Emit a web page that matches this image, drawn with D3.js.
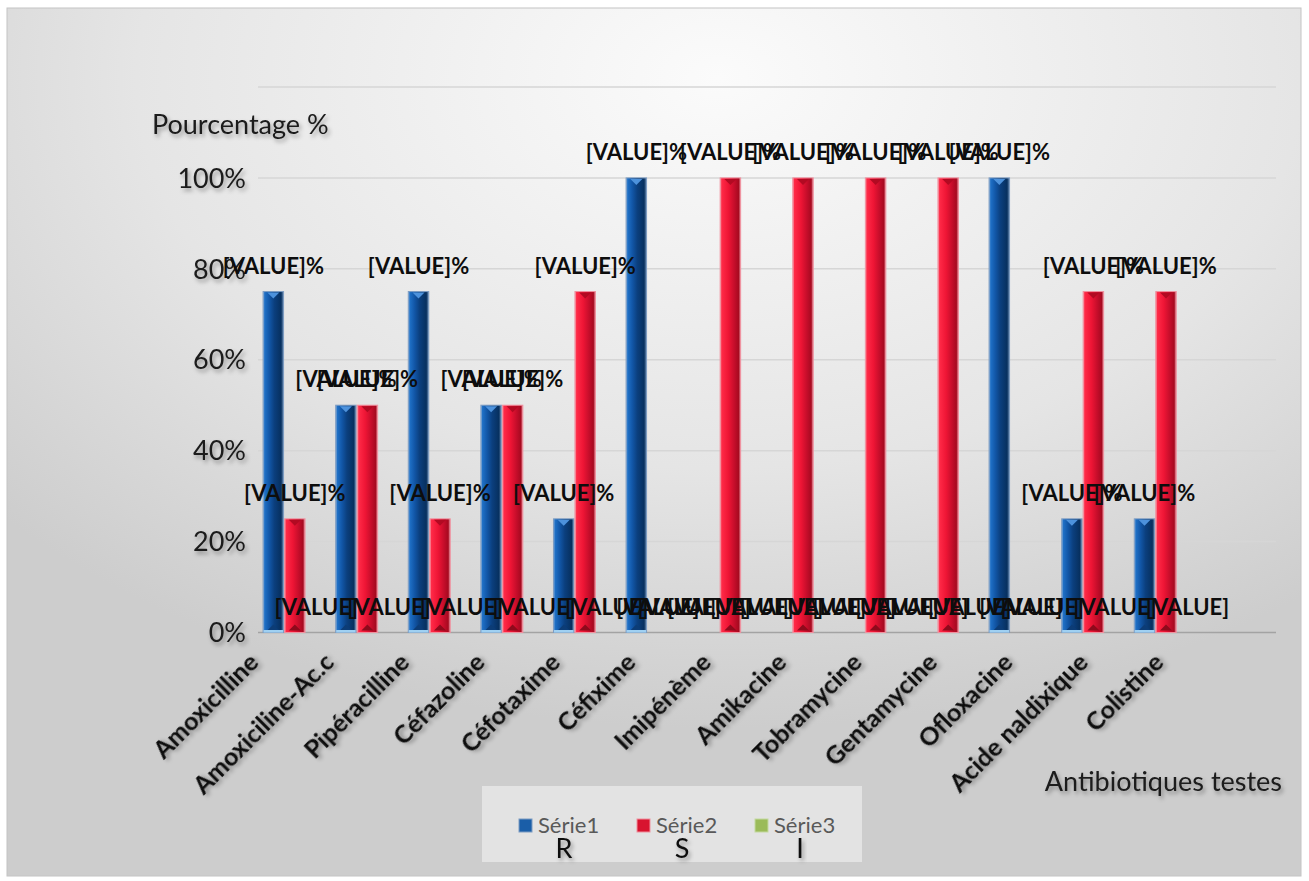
<!DOCTYPE html>
<meta charset="utf-8">
<script src="https://d3js.org/d3.v7.min.js"></script>
<style>
  body { margin: 0; background: #fff; }
  text { font-family: Lato, "Open Sans", sans-serif; }
</style>
<svg id="chart" width="1309" height="881"></svg>
<script>

// Data
var categories = ["Amoxicilline", "Amoxiciline-Ac.c", "Pipéracilline", "Céfazoline", "Céfotaxime",
  "Céfixime", "Imipénème", "Amikacine", "Tobramycine", "Gentamycine", "Ofloxacine",
  "Acide naldixique", "Colistine"];
var serie1 = [75, 50, 75, 50, 25, 100, 0, 0, 0, 0, 100, 25, 25];   // R
var serie2 = [25, 50, 25, 50, 75, 0, 100, 100, 100, 100, 0, 75, 75]; // S
var serie3 = [0, 0, 0, 0, 0, 0, 0, 0, 0, 0, 0, 0, 0];               // I
var seriesNames = ["Série1", "Série2", "Série3"];
var seriesLetters = ["R", "S", "I"];
var tickValues = [0, 20, 40, 60, 80, 100];
var tickLabels = ["0%", "20%", "40%", "60%", "80%", "100%"];
var gridValues = [0, 20, 40, 60, 80, 100, 120];

var svg = d3.select("svg");
var defs = svg.append("defs");

// soft text shadow
var sh = defs.append("filter").attr("id", "shadow")
  .attr("x", "-20%").attr("y", "-40%").attr("width", "150%").attr("height", "200%");
sh.append("feDropShadow").attr("dx", 2).attr("dy", 3).attr("stdDeviation", 2)
  .attr("flood-color", "#000").attr("flood-opacity", 0.35);

// background
var bg = defs.append("radialGradient").attr("id", "bg")
  .attr("cx", 0.55).attr("cy", 0.08).attr("r", 0.75);
[[0, "#fbfbfb"], [0.6, "#e5e5e5"], [1, "#cdcdcd"]].forEach(function(s) {
  bg.append("stop").attr("offset", s[0]).attr("stop-color", s[1]);
});

function hGrad(id, stops) {
  var g = defs.append("linearGradient").attr("id", id)
    .attr("x1", 0).attr("x2", 1).attr("y1", 0).attr("y2", 0);
  stops.forEach(function(s) { g.append("stop").attr("offset", s[0]).attr("stop-color", s[1]); });
}
hGrad("gBlue", [[0, "#8fb4dc"], [0.08, "#1f70c6"], [0.3, "#1257a8"], [0.55, "#0b3f7e"], [0.88, "#07305f"], [1, "#6f90b6"]]);
hGrad("gRed", [[0, "#f6a3b0"], [0.08, "#ff2a47"], [0.4, "#ee1535"], [0.7, "#c40d2a"], [0.9, "#a70a20"], [1, "#e9909d"]]);
hGrad("gGreen", [[0, "#c4d9a0"], [0.1, "#9bbb59"], [0.9, "#84a34a"], [1, "#c4d9a0"]]);

var fills = { "Série1": "url(#gBlue)", "Série2": "url(#gRed)", "Série3": "url(#gGreen)" };
var strokes = { "Série1": "#7d9cc2", "Série2": "#f0909e", "Série3": "#c4d9a0" };
var topTri = { "Série1": "#4d92dc", "Série2": "#b20a22", "Série3": "#84a34a" };
var botTri = { "Série1": "#0c3c76", "Série2": "#8e0a1c", "Série3": "#84a34a" };
var legendFill = { "Série1": "#1a5ea8", "Série2": "#d8142f", "Série3": "#9bbb59" };

svg.append("rect").attr("x", 7).attr("y", 8).attr("width", 1294).attr("height", 868)
  .attr("fill", "url(#bg)").attr("stroke", "#c4c4c4");

// scales
var x = d3.scaleBand().domain(categories).range([258.5, 258.5 + 13 * 72.6]);
var xs = d3.scaleBand().domain(seriesNames).range([0, x.bandwidth()]).paddingOuter(0.19);
var y = d3.scaleLinear().domain([0, 120]).range([632.5, 87]);
var labelX = d3.scalePoint().domain(categories).range([260, 1165]);

// gridlines
svg.append("g").selectAll("line").data(gridValues).enter().append("line")
  .attr("x1", 258).attr("x2", 1276)
  .attr("y1", function(d) { return y(d); }).attr("y2", function(d) { return y(d); })
  .attr("stroke", function(d) { return d === 0 ? "#a3a3a3" : "#d6d6d6"; })
  .attr("stroke-width", 1.5);

// y tick labels
svg.append("g").selectAll("text").data(tickValues).enter().append("text")
  .attr("x", 246).attr("y", function(d) { return y(d); }).attr("dy", "0.36em")
  .attr("text-anchor", "end").attr("font-size", 27).attr("fill", "#1a1a1a")
  .attr("filter", "url(#shadow)")
  .text(function(d, i) { return tickLabels[i]; });

svg.append("text").attr("x", 152).attr("y", 134).attr("font-size", 27).attr("fill", "#1a1a1a")
  .attr("filter", "url(#shadow)").text("Pourcentage %");

// bars
var allSeries = [serie1, serie2, serie3];
var bars = [];
categories.forEach(function(c, i) {
  seriesNames.forEach(function(s, j) {
    bars.push({ cat: c, s: s, v: allSeries[j][i] });
  });
});

var bw = xs.bandwidth();
var gBars = svg.append("g");
var shown = bars.filter(function(d) { return d.v > 0; });
var bar = gBars.selectAll("g").data(shown).enter().append("g")
  .attr("transform", function(d) { return "translate(" + (x(d.cat) + xs(d.s)) + ",0)"; });
bar.append("rect")
  .attr("x", 0.5).attr("width", bw - 1)
  .attr("y", function(d) { return y(d.v); })
  .attr("height", function(d) { return y(0) - y(d.v); })
  .attr("fill", function(d) { return fills[d.s]; })
  .attr("stroke", function(d) { return strokes[d.s]; });
bar.append("path")
  .attr("d", function(d) {
    var t = y(d.v) + 1;
    return "M" + (bw * 0.22) + "," + t + "L" + (bw * 0.78) + "," + t + "L" + (bw / 2) + "," + (t + 6) + "Z";
  })
  .attr("fill", function(d) { return topTri[d.s]; });
bar.append("path")
  .attr("d", function(d) {
    var b = y(0) - 2;
    return "M" + (bw * 0.22) + "," + b + "L" + (bw * 0.78) + "," + b + "L" + (bw / 2) + "," + (b - 6) + "Z";
  })
  .attr("fill", function(d) { return botTri[d.s]; });
bar.filter(function(d) { return d.s === "Série1"; }).append("rect")
  .attr("x", 1).attr("width", bw - 2).attr("y", y(0) - 2.5).attr("height", 2.5)
  .attr("fill", "#9fd0f2");

// data labels
svg.append("g").selectAll("text").data(bars).enter().append("text")
  .attr("x", function(d) { return x(d.cat) + xs(d.s) + bw / 2; })
  .attr("y", function(d) { return y(d.v) - 18; })
  .attr("text-anchor", "middle").attr("font-size", 22).attr("font-weight", "bold")
  .attr("fill", "#0d0d0d")
  .text(function(d) { return d.v === 0 ? "[VALUE]" : "[VALUE]%"; });

// category labels
svg.append("g").selectAll("text").data(categories).enter().append("text")
  .attr("transform", function(d) { return "translate(" + labelX(d) + ",664) rotate(-45)"; })
  .attr("text-anchor", "end").attr("font-size", 25).attr("font-weight", "bold")
  .attr("fill", "#0d0d0d").attr("filter", "url(#shadow)")
  .text(function(d) { return d; });

svg.append("text").attr("x", 1282).attr("y", 791).attr("text-anchor", "end")
  .attr("font-size", 27).attr("fill", "#1a1a1a").attr("filter", "url(#shadow)")
  .text("Antibiotiques testes");

// legend
svg.append("rect").attr("x", 482).attr("y", 786).attr("width", 380).attr("height", 76)
  .attr("fill", "#e3e3e3");
var lx = d3.scalePoint().domain(seriesNames).range([519, 755]);
var leg = svg.append("g").selectAll("g").data(seriesNames).enter().append("g")
  .attr("transform", function(d) { return "translate(" + lx(d) + ",0)"; });
leg.append("rect").attr("x", 0).attr("y", 819).attr("width", 13).attr("height", 13)
  .attr("fill", function(d) { return legendFill[d]; })
  .attr("stroke", function(d) { return strokes[d]; });
leg.append("text").attr("x", 19).attr("y", 833).attr("font-size", 22).attr("fill", "#595959")
  .text(function(d) { return d; });
leg.append("text").attr("x", 45).attr("y", 858).attr("text-anchor", "middle")
  .attr("font-size", 27).attr("fill", "#0d0d0d").attr("filter", "url(#shadow)")
  .text(function(d, i) { return seriesLetters[i]; });

</script>
